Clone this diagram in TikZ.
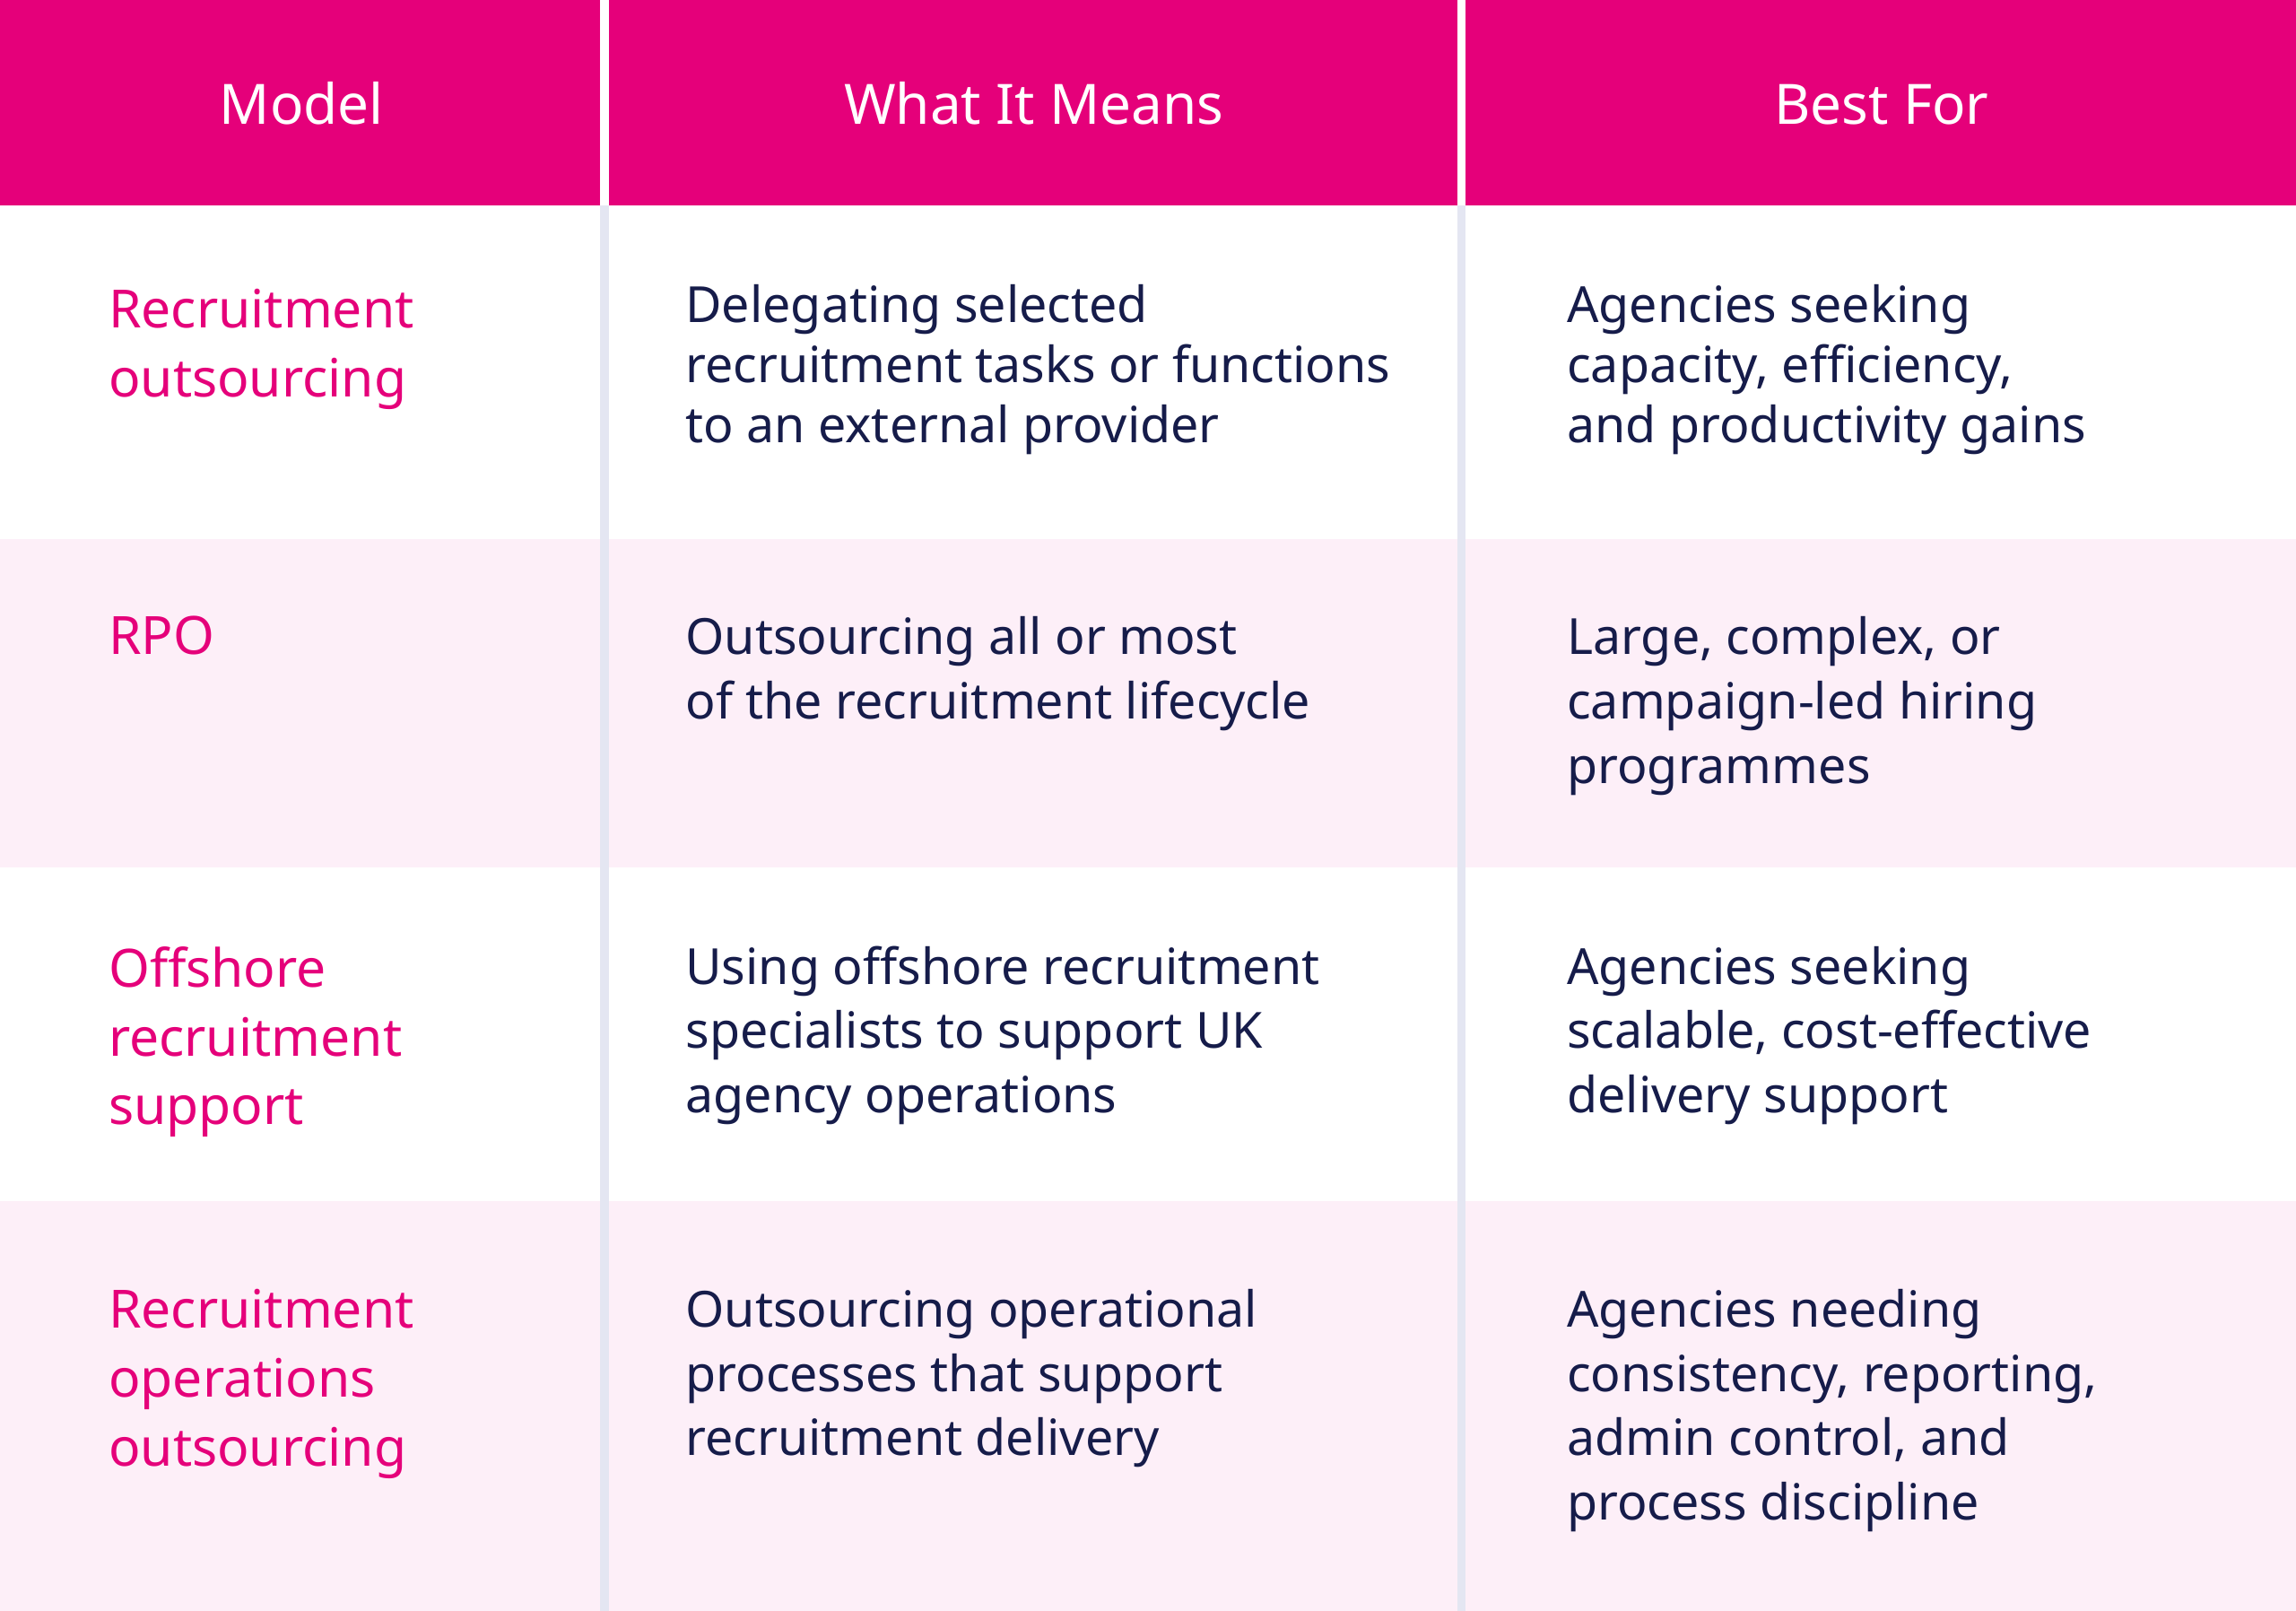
\documentclass[tikz,border=0pt]{standalone}
\usepackage{fontspec}
\setmainfont{Noto Sans}
\definecolor{mag}{HTML}{E5007A}
\definecolor{rowpink}{HTML}{FDEFF8}
\definecolor{navy}{HTML}{161C4A}
\definecolor{divider}{HTML}{E4E6F2}
\tikzset{
  hdr/.style={text=white,font=\fontsize{38}{44}\selectfont\bfseries,anchor=base},
  mline/.style={text=mag,font=\fontsize{36}{44}\selectfont\bfseries,anchor=base west,inner sep=0pt},
  bline/.style={text=navy,font=\fontsize{34}{42}\selectfont,anchor=base west,inner sep=0pt},
}
\newcommand{\lns}[5]{% style, x, y, step, list
  \foreach \t [count=\i from 0] in {#5} {
    \node[#1] (n-#2-#3-\i) at (#2,{#3+\i*#4}) {\t};
  }}
\begin{document}
\begin{tikzpicture}[x=1pt,y=-1pt]
\useasboundingbox (0,0) rectangle (1568,1100);
\fill[white] (0,0) rectangle (1568,1100);
% header
\fill[mag] (0,0) rectangle (410,140);
\fill[mag] (416,0) rectangle (995,140);
\fill[mag] (1001,0) rectangle (1568,140);
\fill[rowpink] (0,368) rectangle (1568,592);
\fill[rowpink] (0,820) rectangle (1568,1100);
\fill[divider] (410,140) rectangle (416,1100);
\fill[divider] (995,140) rectangle (1001,1100);
\node[hdr] (h1) at (206,85) {Model};
\node[hdr] (h2) at (706,85) {What It Means};
\node[hdr] (h3) at (1285,85) {Best For};
% row 1
\lns{mline}{74}{224}{47}{Recruitment,outsourcing}
\lns{bline}{468}{220}{41}{Delegating selected,recruitment tasks or functions,to an external provider}
\lns{bline}{1070}{220}{41}{Agencies seeking,{capacity, efficiency,},and productivity gains}
% row 2
\lns{mline}{74}{447}{47}{RPO}
\lns{bline}{468}{447}{44}{Outsourcing all or most,of the recruitment lifecycle}
\lns{bline}{1070}{447}{44}{{Large, complex, or},campaign-led hiring,programmes}
% row 3
\lns{mline}{74}{674}{47}{Offshore,recruitment,support}
\lns{bline}{468}{672}{44}{Using offshore recruitment,specialists to support UK,agency operations}
\lns{bline}{1070}{672}{44}{Agencies seeking,{scalable, cost-effective},delivery support}
% row 4
\lns{mline}{74}{907}{47}{Recruitment,operations,outsourcing}
\lns{bline}{468}{906}{44}{Outsourcing operational,processes that support,recruitment delivery}
\lns{bline}{1070}{906}{44}{Agencies needing,{consistency, reporting,},{admin control, and},process discipline}
\end{tikzpicture}
\end{document}
